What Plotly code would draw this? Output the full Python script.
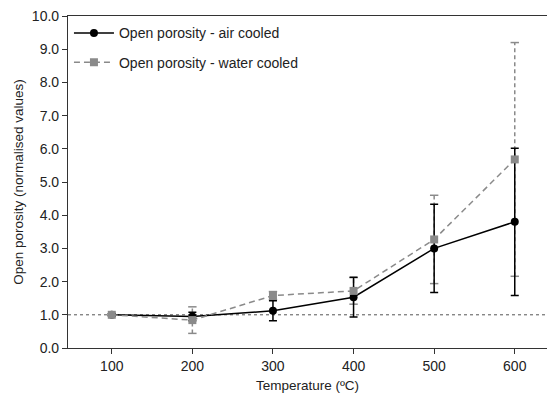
import plotly.graph_objects as go

# Temperatures and normalised open porosity (mean ± error)
temperature = [100, 200, 300, 400, 500, 600]
air_cooled = [1.00, 0.95, 1.12, 1.53, 3.00, 3.80]
air_err = [0.03, 0.13, 0.30, 0.60, 1.33, 2.22]
water_cooled = [1.00, 0.84, 1.58, 1.72, 3.27, 5.68]
water_err = [0.03, 0.40, 0.12, 0.40, 1.33, 3.52]

x_ticks = [100, 200, 300, 400, 500, 600]
y_ticks = [i * 1.0 for i in range(11)]

GREY = "#8a8a8a"
FONT = "Liberation Sans, Arial, sans-serif"

fig = go.Figure()

# Reference line at 1.0
fig.add_shape(type="line", xref="paper", x0=0, x1=1, yref="y", y0=1, y1=1,
              line=dict(color="#555555", width=1, dash="dot"), layer="below")

# Water-cooled error bars drawn as dashed segments with small caps
seg_x, seg_y = [], []
for t, v, e in zip(temperature, water_cooled, water_err):
    seg_x += [t, t, None]
    seg_y += [v - e, v + e, None]
fig.add_trace(go.Scatter(x=seg_x, y=seg_y, mode="lines", showlegend=False,
                         hoverinfo="skip",
                         line=dict(color=GREY, width=1.5, dash="4px,3px")))
cap_x = temperature + temperature
cap_y = [v + e for v, e in zip(water_cooled, water_err)] + \
        [v - e for v, e in zip(water_cooled, water_err)]
fig.add_trace(go.Scatter(x=cap_x, y=cap_y, mode="markers", showlegend=False,
                         hoverinfo="skip",
                         marker=dict(symbol="line-ew", size=6,
                                     line=dict(color=GREY, width=1.5))))

# Air-cooled series
fig.add_trace(go.Scatter(
    x=temperature, y=air_cooled, mode="lines+markers",
    name="Open porosity - air cooled", legendgroup="air",
    line=dict(color="black", width=1.5),
    marker=dict(symbol="circle", size=8, color="black"),
    error_y=dict(type="data", array=air_err, visible=True,
                 color="black", thickness=1.5, width=4),
))

# Water-cooled series
fig.add_trace(go.Scatter(
    x=temperature, y=water_cooled, mode="lines+markers",
    name="Open porosity - water cooled", legendgroup="water",
    line=dict(color=GREY, width=1.5, dash="6px,4px"),
    marker=dict(symbol="square", size=8, color=GREY),
))

fig.update_layout(
    width=547, height=394,
    margin=dict(l=68, r=0, t=16, b=46),
    paper_bgcolor="white", plot_bgcolor="white",
    font=dict(family=FONT, size=14, color="#222222"),
    legend=dict(x=0.002, y=0.996, xanchor="left", yanchor="top",
                bgcolor="rgba(0,0,0,0)", font=dict(size=14),
                tracegroupgap=8, itemwidth=40),
    showlegend=True,
)
fig.update_xaxes(
    range=[45.7, 640], tickvals=x_ticks, ticktext=[str(v) for v in x_ticks],
    ticks="outside", ticklen=5, tickwidth=1, tickcolor="#333333",
    showline=True, linecolor="#333333", linewidth=1.2, mirror=True,
    showgrid=False, zeroline=False,
    title=dict(text="Temperature (ºC)", font=dict(size=13.5), standoff=7),
)
fig.update_yaxes(
    range=[0, 10], tickvals=y_ticks, tickformat=".1f",
    ticks="outside", ticklen=5, tickwidth=1, tickcolor="#333333",
    showline=True, linecolor="#333333", linewidth=1.2,
    showgrid=False, zeroline=False,
    title=dict(text="Open porosity (normalised values)", font=dict(size=13.5),
               standoff=5),
)

fig.write_html("out.html")
